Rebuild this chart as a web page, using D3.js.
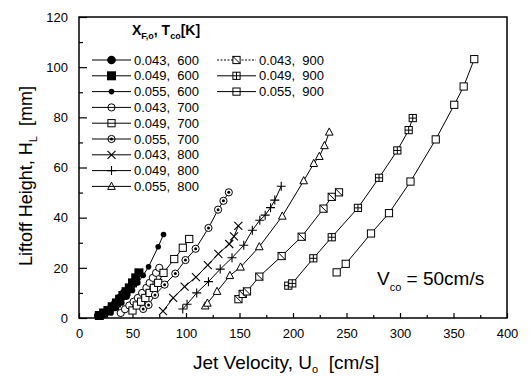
<!DOCTYPE html>
<html>
<head>
<meta charset="utf-8">
<script src="https://cdn.jsdelivr.net/npm/d3@7"></script>
<style>
body { margin: 0; background: #fff; }
text { font-family: 'Liberation Sans', Arial, sans-serif; fill: #000; }
</style>
</head>
<body>
<div id="chart"></div>
<script>
// jet velocity U_o [cm/s] and liftoff height H_L [mm], one pair of arrays per series
let u_043_600 = [18, 22, 26, 30, 34, 38, 42]
let h_043_600 = [1, 1.5, 2.5, 4, 6, 8, 10]
let u_049_600 = [19, 23, 27, 31, 35, 38, 41, 44, 47, 50, 53, 56]
let h_049_600 = [1, 2, 3, 4.5, 6, 7.5, 9, 10.5, 12, 14, 16, 18]
let u_055_600 = [30, 35, 40, 45, 50, 55, 60, 65, 74, 79]
let h_055_600 = [2, 4, 6, 8.5, 11, 14, 17, 20.4, 28.4, 33.3]
let u_043_700 = [39, 43, 47, 51, 55, 59, 63, 66, 69, 72, 75]
let h_043_700 = [2, 3.5, 5, 6.5, 8, 10, 12, 14, 16, 18, 20]
let u_049_700 = [50, 54, 58, 62, 66, 70, 74, 79, 89, 97, 103]
let h_049_700 = [3, 5, 6.5, 8, 10, 12, 14, 18, 23.5, 28, 31.5]
let u_055_700 = [60, 65, 71, 80, 90, 99.5, 109, 121, 130, 135, 140]
let h_055_700 = [3.6, 5.2, 9.2, 13.3, 17.7, 23.1, 27.6, 35.9, 43.2, 46.7, 50.1]
let u_043_800 = [78.5, 88, 98.7, 109.3, 120.4, 130.2, 140.4, 144.9, 148.9]
let h_043_800 = [2.7, 8, 12.5, 16.3, 21.1, 25.6, 29.5, 32.5, 36.7]
let u_049_800 = [97, 101, 110, 121, 132, 143, 154, 162, 169, 174, 179, 183, 189]
let h_049_800 = [3.6, 5.5, 10, 14.5, 19.5, 24, 29, 35, 39, 41, 44, 47, 52.5]
let u_055_800 = [118, 120, 129, 141, 151, 168.5, 190, 210, 219.4, 224.6, 229.4, 233.9]
let h_055_800 = [4.8, 5.9, 10.6, 16.9, 20.3, 28.4, 40.6, 54.7, 61.6, 64.4, 68.7, 74.1]
let u_043_900 = [149, 153, 157, 168.5, 189.4, 208.1, 228.5, 236.2, 243]
let h_043_900 = [7.5, 9.6, 10.6, 16.5, 24.7, 32.4, 43.6, 48.3, 50.1]
let u_049_900 = [195.6, 199.3, 219, 236.2, 260.7, 280.4, 297.5, 308.1, 311.9]
let h_049_900 = [12.9, 13.8, 23.8, 32.2, 43.9, 55.9, 66.8, 74.9, 79.7]
let u_055_900 = [240.8, 249.3, 272.9, 289.7, 309.8, 333.4, 350.7, 359.5, 369.4]
let h_055_900 = [18.2, 21.6, 33.7, 41.8, 54.4, 71.2, 85, 92.3, 103.2]

let series_labels = ['0.043,  600', '0.049,  600', '0.055,  600', '0.043,  700', '0.049,  700', '0.055,  700',
    '0.043,  800', '0.049,  800', '0.055,  800', '0.043,  900', '0.049,  900', '0.055,  900']
let series_u = [u_043_600, u_049_600, u_055_600, u_043_700, u_049_700, u_055_700,
    u_043_800, u_049_800, u_055_800, u_043_900, u_049_900, u_055_900]
let series_h = [h_043_600, h_049_600, h_055_600, h_043_700, h_049_700, h_055_700,
    h_043_800, h_049_800, h_055_800, h_043_900, h_049_900, h_055_900]
let symbols = ['bigdot', 'fsquare', 'dot', 'circle', 'square', 'circdot', 'cross', 'plus', 'triangle', 'sqdiag', 'sqplus', 'square']

let x_ticks = [0, 50, 100, 150, 200, 250, 300, 350, 400]
let y_ticks = [0, 20, 40, 60, 80, 100, 120]

let margin = {top: 17, right: 24, bottom: 58, left: 79}
let width = 531
let height = 376

let svg = d3.select('#chart').append('svg').attr('width', width).attr('height', height)
let x = d3.scaleLinear().domain([0, 400]).range([margin.left, width - margin.right])
let y = d3.scaleLinear().domain([0, 120]).range([height - margin.bottom, margin.top])

// axes, ticks pointing into the frame
svg.append('g').attr('transform', 'translate(0,' + (height - margin.bottom) + ')')
    .call(d3.axisBottom(x).tickValues(x_ticks).tickSize(-5).tickPadding(11))
svg.append('g').attr('transform', 'translate(0,' + (height - margin.bottom) + ')')
    .call(d3.axisBottom(x).tickValues(d3.range(25, 400, 50)).tickSize(-3).tickFormat(''))
svg.append('g').attr('transform', 'translate(' + margin.left + ',0)')
    .call(d3.axisLeft(y).tickValues(y_ticks).tickSize(-8).tickPadding(11))
svg.append('g').attr('transform', 'translate(' + margin.left + ',0)')
    .call(d3.axisLeft(y).tickValues(d3.range(10, 120, 20)).tickSize(-4).tickFormat(''))
svg.selectAll('.domain').remove()
svg.selectAll('.tick line').attr('stroke', '#000').attr('stroke-width', 1.2)
svg.selectAll('.tick text').style('font-size', '13px').style('font-family', "'Liberation Sans', Arial, sans-serif")

svg.append('rect').attr('x', x(0)).attr('y', y(120)).attr('width', x(400) - x(0)).attr('height', y(0) - y(120))
    .attr('fill', 'none').attr('stroke', '#000').attr('stroke-width', 1.5)

function drawMarker(g, type, cx, cy, fill) {
    let s = 3.6
    if (type === 'bigdot') {
        g.append('circle').attr('cx', cx).attr('cy', cy).attr('r', 4.3).attr('fill', '#000')
    } else if (type === 'dot') {
        g.append('circle').attr('cx', cx).attr('cy', cy).attr('r', 2.8).attr('fill', '#000')
    } else if (type === 'fsquare') {
        g.append('rect').attr('x', cx - 4.5).attr('y', cy - 4.5).attr('width', 9).attr('height', 9).attr('fill', '#000')
    } else if (type === 'circle') {
        g.append('circle').attr('cx', cx).attr('cy', cy).attr('r', s).attr('fill', fill).attr('stroke', '#000')
    } else if (type === 'circdot') {
        g.append('circle').attr('cx', cx).attr('cy', cy).attr('r', s).attr('fill', fill).attr('stroke', '#000')
        g.append('circle').attr('cx', cx).attr('cy', cy).attr('r', 1.5).attr('fill', '#000')
    } else if (type === 'square' || type === 'sqdiag' || type === 'sqplus') {
        g.append('rect').attr('x', cx - s).attr('y', cy - s).attr('width', 2 * s).attr('height', 2 * s)
            .attr('fill', fill).attr('stroke', '#000')
        if (type === 'sqdiag') {
            g.append('path').attr('d', 'M' + (cx - s) + ',' + (cy - s) + 'L' + (cx + s) + ',' + (cy + s)).attr('stroke', '#000')
        }
        if (type === 'sqplus') {
            g.append('path').attr('d', 'M' + (cx - s) + ',' + cy + 'H' + (cx + s) + 'M' + cx + ',' + (cy - s) + 'V' + (cy + s))
                .attr('stroke', '#000')
        }
    } else if (type === 'triangle') {
        g.append('path').attr('d', 'M' + cx + ',' + (cy - 4.2) + 'L' + (cx + 3.8) + ',' + (cy + 3) + 'L' + (cx - 3.8) + ',' + (cy + 3) + 'Z')
            .attr('fill', fill).attr('stroke', '#000')
    } else if (type === 'cross') {
        g.append('path').attr('d', 'M' + (cx - 4) + ',' + (cy - 4) + 'L' + (cx + 4) + ',' + (cy + 4) + 'M' + (cx - 4) + ',' + (cy + 4) + 'L' + (cx + 4) + ',' + (cy - 4))
            .attr('stroke', '#000').attr('stroke-width', 1.1)
    } else if (type === 'plus') {
        g.append('path').attr('d', 'M' + (cx - 4.5) + ',' + cy + 'H' + (cx + 4.5) + 'M' + cx + ',' + (cy - 4.5) + 'V' + (cy + 4.5))
            .attr('stroke', '#000').attr('stroke-width', 1.1)
    }
}

let line = d3.line().x(d => x(d[0])).y(d => y(d[1]))

series_u.forEach((us, i) => {
    let pts = us.map((u, j) => [u, series_h[i][j]])
    let g = svg.append('g')
    g.append('path').datum(pts).attr('d', line).attr('fill', 'none').attr('stroke', '#000').attr('stroke-width', 1)
    pts.forEach(p => drawMarker(g, symbols[i], x(p[0]), y(p[1]), '#fff'))
})

// legend
let header = svg.append('text').attr('x', 132).attr('y', 35).style('font-size', '14px').style('font-weight', 'bold')
header.append('tspan').text('X')
header.append('tspan').attr('dy', 4).style('font-size', '9px').text('F,o')
header.append('tspan').attr('dy', -4).text(',  T')
header.append('tspan').attr('dy', 4).style('font-size', '9px').text('co')
header.append('tspan').attr('dy', -4).text('[K]')

series_labels.forEach((lab, i) => {
    let col = i < 9 ? 0 : 1
    let row = i < 9 ? i : i - 9
    let x0 = col === 0 ? 92 : 217
    let x1 = col === 0 ? 131 : 256
    let cy = 60 + row * 15.8
    let g = svg.append('g')
    g.append('line').attr('x1', x0).attr('x2', x1).attr('y1', cy).attr('y2', cy).attr('stroke', '#000')
        .attr('stroke-dasharray', i === 9 ? '2,1.5' : null)
    drawMarker(g, symbols[i], (x0 + x1) / 2, cy, i === 9 || i === 10 ? '#fff' : 'none')
    g.append('text').attr('x', x1 + 3).attr('y', cy + 4.6).style('font-size', '13px').style('white-space', 'pre').text(lab)
})

// axis titles
let ylab = svg.append('text').attr('transform', 'translate(32,176) rotate(-90)').attr('text-anchor', 'middle')
    .style('font-size', '18px').style('white-space', 'pre')
ylab.append('tspan').text('Liftoff Height, H')
ylab.append('tspan').attr('dy', 5).style('font-size', '11px').text('L')
ylab.append('tspan').attr('dy', -5).text('  [mm]')

let xlab = svg.append('text').attr('x', 193).attr('y', 369).style('font-size', '19px').style('white-space', 'pre')
xlab.append('tspan').text('Jet Velocity, U')
xlab.append('tspan').attr('dy', 4).style('font-size', '11px').text('o')
xlab.append('tspan').attr('dy', -4).text('  [cm/s]')

let note = svg.append('text').attr('x', 377).attr('y', 285).style('font-size', '19px').style('white-space', 'pre')
note.append('tspan').text('V')
note.append('tspan').attr('dy', 6).style('font-size', '11px').text('co')
note.append('tspan').attr('dy', -6).text(' = 50cm/s')
</script>
</body>
</html>
